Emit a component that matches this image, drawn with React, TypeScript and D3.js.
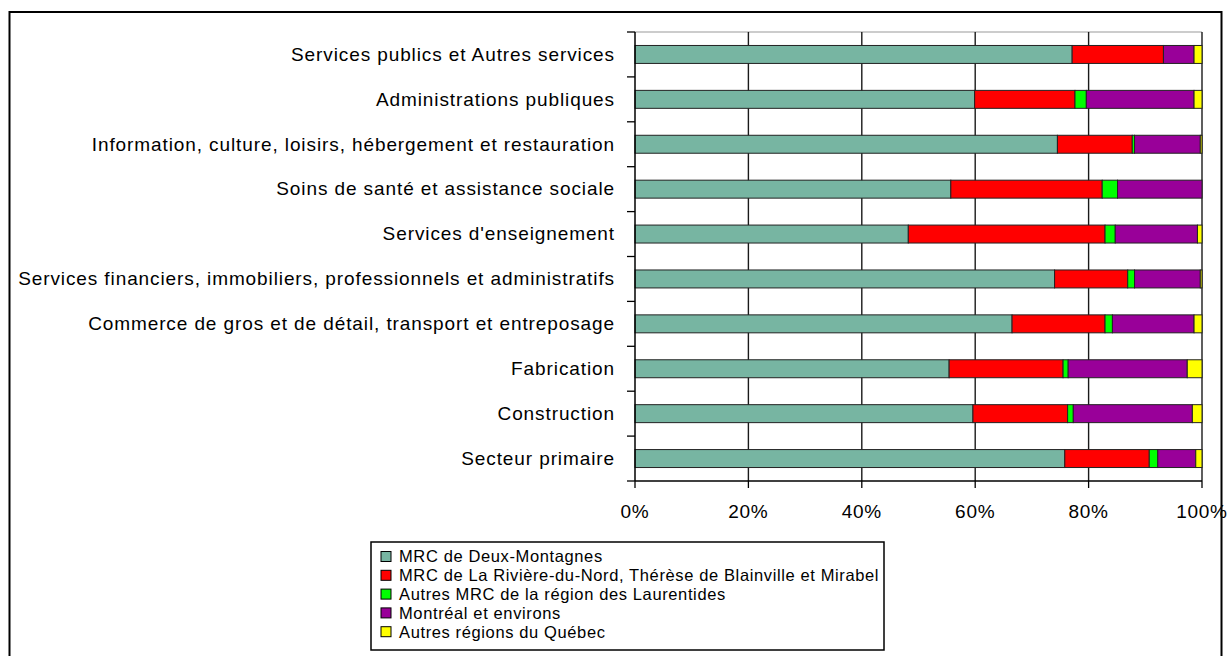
import React from "react";
import * as d3 from "d3";

const categories = [
  "Services publics et Autres services",
  "Administrations publiques",
  "Information, culture, loisirs, hébergement et restauration",
  "Soins de santé et assistance sociale",
  "Services d'enseignement",
  "Services financiers, immobiliers, professionnels et administratifs",
  "Commerce de gros et de détail, transport et entreposage",
  "Fabrication",
  "Construction",
  "Secteur primaire",
];

const seriesNames = [
  "MRC de Deux-Montagnes",
  "MRC de La Rivière-du-Nord, Thérèse de Blainville et Mirabel",
  "Autres MRC de la région des Laurentides",
  "Montréal et environs",
  "Autres régions du Québec",
];

// valeurs en %, dans l'ordre des catégories
const deuxMontagnes = [77.1, 59.9, 74.5, 55.7, 48.2, 74.0, 66.5, 55.4, 59.6, 75.8];
const riviereDuNord = [16.1, 17.7, 13.2, 26.7, 34.7, 12.9, 16.4, 20.1, 16.7, 14.9];
const autresLaurentides = [0.0, 2.0, 0.4, 2.7, 1.8, 1.2, 1.3, 0.9, 1.0, 1.5];
const montreal = [5.4, 19.0, 11.6, 14.9, 14.5, 11.6, 14.4, 21.0, 21.0, 6.7];
const autresQuebec = [1.4, 1.4, 0.3, 0.0, 0.8, 0.3, 1.4, 2.6, 1.7, 1.1];

const xTicks = [0, 20, 40, 60, 80, 100];

const colors = ["#77b5a2", "#ff0000", "#00ff00", "#990099", "#ffff00"];

const font = "'Liberation Sans', Arial, sans-serif";

export default function App() {
  const width = 1231;
  const height = 656;

  const rows = categories.map((c, i) => ({
    cat: c,
    s0: deuxMontagnes[i],
    s1: riviereDuNord[i],
    s2: autresLaurentides[i],
    s3: montreal[i],
    s4: autresQuebec[i],
  }));
  const keys = ["s0", "s1", "s2", "s3", "s4"];
  const stacked = d3.stack<any>().keys(keys)(rows);

  const x = d3.scaleLinear().domain([0, 100]).range([635, 1202]);
  const y = d3
    .scaleBand<string>()
    .domain(categories)
    .range([32, 481])
    .paddingInner(0.6)
    .paddingOuter(0.3);

  const [y0, y1] = y.range();
  const step = y.step();
  const catTicks = d3.range(categories.length + 1).map((i) => y0 + i * step);

  return (
    <svg
      width={width}
      height={height}
      style={{ position: "absolute", left: 0, top: 0, background: "#fff" }}
    >
      <rect x={9.5} y={12} width={1212} height={700} fill="#fff" stroke="#000" strokeWidth={2} />

      {/* cadre de la zone de tracé */}
      <line x1={x(0)} x2={x(100)} y1={y0} y2={y0} stroke="#999" strokeWidth={1} />

      {/* quadrillage */}
      {xTicks.slice(1).map((t) => (
        <line key={t} x1={x(t)} x2={x(t)} y1={y0} y2={y1} stroke="#1a1a1a" strokeWidth={1.4} />
      ))}

      {/* barres */}
      {stacked.map((layer, si) => (
        <g key={si}>
          {layer.map((d, i) =>
            d[1] - d[0] > 0 ? (
              <rect
                key={i}
                x={x(d[0])}
                y={y(categories[i])}
                width={x(d[1]) - x(d[0])}
                height={y.bandwidth()}
                fill={colors[si]}
                stroke="#222"
                strokeWidth={1}
              />
            ) : null
          )}
        </g>
      ))}

      {/* axes */}
      <line x1={x(0)} x2={x(0)} y1={y0} y2={y1} stroke="#000" strokeWidth={1.5} />
      <line x1={x(0)} x2={x(100)} y1={y1} y2={y1} stroke="#000" strokeWidth={1.5} />
      {catTicks.map((t, i) => (
        <line key={i} x1={x(0) - 8} x2={x(0)} y1={t} y2={t} stroke="#000" strokeWidth={1.3} />
      ))}
      {xTicks.map((t) => (
        <g key={t}>
          <line x1={x(t)} x2={x(t)} y1={y1} y2={y1 + 7} stroke="#000" strokeWidth={1.3} />
          <text
            x={x(t)}
            y={518}
            textAnchor="middle"
            fontFamily={font}
            fontSize={19}
            letterSpacing={0.7}
            fill="#000"
          >
            {t}%
          </text>
        </g>
      ))}
      {categories.map((c) => (
        <text
          key={c}
          x={615}
          y={(y(c) as number) + y.bandwidth() / 2}
          dy="0.33em"
          textAnchor="end"
          fontFamily={font}
          fontSize={19}
          letterSpacing={0.9}
          fill="#000"
        >
          {c}
        </text>
      ))}

      {/* légende */}
      <rect x={371} y={542} width={513} height={108} fill="#fff" stroke="#000" strokeWidth={1.5} />
      {seriesNames.map((n, i) => {
        const cy = 556.5 + i * 18.8;
        return (
          <g key={n}>
            <rect x={381} y={cy - 5} width={10} height={10} fill={colors[i]} stroke="#000" strokeWidth={1} />
            <text
              x={399}
              y={cy}
              dy="0.36em"
              fontFamily={font}
              fontSize={16.5}
              letterSpacing={0.62}
              fill="#000"
            >
              {n}
            </text>
          </g>
        );
      })}
    </svg>
  );
}
